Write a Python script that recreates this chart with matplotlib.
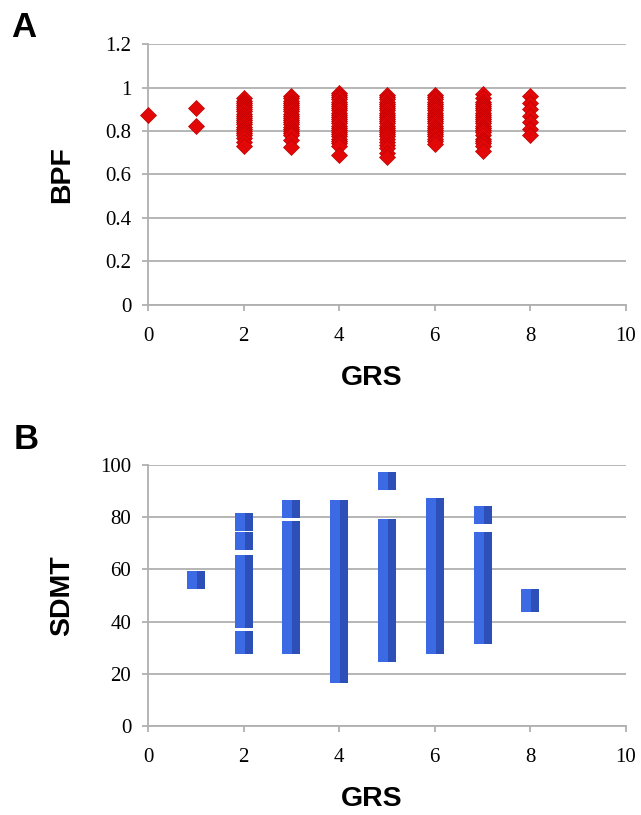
import matplotlib
matplotlib.use('Agg')
import matplotlib.pyplot as plt
from matplotlib.path import Path

# Panel A: BPF values at each GRS score
grs_levels = [0, 1, 2, 3, 4, 5, 6, 7, 8]
bpf_g0 = [0.873]
bpf_g1 = [0.906, 0.823]
bpf_g2 = [0.95, 0.94, 0.93, 0.92, 0.91, 0.90, 0.89, 0.88, 0.87, 0.86, 0.85, 0.84,
          0.83, 0.82, 0.81, 0.80, 0.79, 0.78, 0.77, 0.75, 0.73]
bpf_g3 = [0.96, 0.95, 0.94, 0.93, 0.92, 0.91, 0.90, 0.89, 0.88, 0.87, 0.86, 0.85,
          0.84, 0.83, 0.82, 0.81, 0.80, 0.79, 0.78, 0.76, 0.725]
bpf_g4 = [0.975, 0.965, 0.955, 0.945, 0.935, 0.925, 0.915, 0.905, 0.895, 0.885,
          0.875, 0.865, 0.855, 0.845, 0.835, 0.825, 0.815, 0.805, 0.795, 0.785,
          0.775, 0.765, 0.755, 0.745, 0.73, 0.69]
bpf_g5 = [0.964, 0.955, 0.945, 0.935, 0.925, 0.915, 0.905, 0.895, 0.885, 0.875,
          0.865, 0.855, 0.845, 0.835, 0.825, 0.815, 0.805, 0.795, 0.785, 0.775,
          0.765, 0.75, 0.735, 0.72, 0.70, 0.68]
bpf_g6 = [0.964, 0.955, 0.945, 0.935, 0.925, 0.915, 0.905, 0.895, 0.885, 0.875,
          0.865, 0.855, 0.845, 0.835, 0.825, 0.815, 0.805, 0.795, 0.785, 0.775,
          0.765, 0.755, 0.74]
bpf_g7 = [0.97, 0.95, 0.935, 0.925, 0.915, 0.905, 0.895, 0.885, 0.875, 0.865,
          0.855, 0.845, 0.835, 0.825, 0.815, 0.805, 0.795, 0.78, 0.765, 0.755,
          0.745, 0.73, 0.71]
bpf_g8 = [0.96, 0.93, 0.90, 0.87, 0.84, 0.81, 0.78]
bpf_cols = [bpf_g0, bpf_g1, bpf_g2, bpf_g3, bpf_g4, bpf_g5, bpf_g6, bpf_g7, bpf_g8]

# Panel B: SDMT values at each GRS score (no subject at GRS 0)
sdmt_g1 = [56]
sdmt_g2 = [78, 71, 62, 60, 57, 54, 51, 48, 45, 43, 41, 33, 31]
sdmt_g3 = [83, 75, 72, 69, 66, 63, 60, 57, 54, 51, 48, 45, 42, 39, 36, 33, 31]
sdmt_g4 = [83, 81, 79, 77, 74, 71, 68, 65, 62, 59, 56, 53, 50, 47, 44, 41, 38,
           35, 32, 29, 26, 23, 20]
sdmt_g5 = [94, 76, 74, 70, 67, 64, 61, 58, 55, 52, 49, 46, 43, 40, 37, 34, 31, 28]
sdmt_g6 = [84, 77, 74, 71, 68, 65, 62, 59, 56, 53, 50, 47, 44, 41, 38, 35, 33, 31]
sdmt_g7 = [81, 71, 68, 65, 62, 59, 56, 53, 50, 47, 44, 41, 38, 35]
sdmt_g8 = [49, 47]
sdmt_cols = [[], sdmt_g1, sdmt_g2, sdmt_g3, sdmt_g4, sdmt_g5, sdmt_g6, sdmt_g7, sdmt_g8]

xticks = [0, 2, 4, 6, 8, 10]
bpf_ticks = [0, 0.2, 0.4, 0.6, 0.8, 1, 1.2]
bpf_ticklabels = ['0', '0.2', '0.4', '0.6', '0.8', '1', '1.2']
sdmt_ticks = [0, 20, 40, 60, 80, 100]

bpf_x, bpf_y = [], []
for g, vals in zip(grs_levels, bpf_cols):
	bpf_x += [g] * len(vals)
	bpf_y += vals
sdmt_x, sdmt_y = [], []
for g, vals in zip(grs_levels, sdmt_cols):
	sdmt_x += [g] * len(vals)
	sdmt_y += vals

# darker right side of the square, fakes the excel bevel
right_side = Path([(0.05, 0.5), (0.5, 0.5), (0.5, -0.5), (0.05, -0.5), (0.05, 0.5)])

fig = plt.figure(figsize=(6.41, 8.15), dpi=100)
axA = fig.add_axes([0.2309, 0.6258, 0.7457, 0.3202])
axB = fig.add_axes([0.2309, 0.1092, 0.7457, 0.3202])

tickfont = {'family': 'Liberation Serif', 'size': 15}
labfont = {'family': 'Liberation Sans', 'size': 20.5, 'weight': 'bold'}

def style(ax):
	for s in ['top', 'right']:
		ax.spines[s].set_visible(False)
	for s in ['left', 'bottom']:
		ax.spines[s].set_color('#b0b0b0')
		ax.spines[s].set_linewidth(1.3)
	ax.yaxis.grid(True, color='#b0b0b0', lw=1.3)
	ax.set_axisbelow(True)
	ax.tick_params(axis='both', colors='#b0b0b0', length=4, width=1.3, direction='out')
	ax.set_xlim(0, 10)
	ax.set_xticks(xticks)
	ax.set_xticklabels([str(t) for t in xticks], fontdict=tickfont, color='black')
	ax.tick_params(axis='x', pad=12)
	ax.tick_params(axis='y', pad=8)
	ax.set_xlabel('GRS', fontdict=labfont)
	ax.xaxis.set_label_coords(0.467, -0.23)

style(axA)
axA.plot(bpf_x, bpf_y, linestyle='none', marker='D', ms=7.8,
	mfc='#e30808', mec='#c00000', mew=0.5, clip_on=False, zorder=3)
axA.set_ylim(0, 1.2)
axA.set_yticks(bpf_ticks)
axA.set_yticklabels(bpf_ticklabels, fontdict=tickfont, color='black')
axA.set_ylabel('BPF', fontdict=labfont)
axA.yaxis.set_label_coords(-0.152, 0.5)

style(axB)
axB.plot(sdmt_x, sdmt_y, linestyle='none', marker='s', ms=12.6,
	mfc='#3b6ae4', mew=0, clip_on=False, zorder=3)
axB.plot(sdmt_x, sdmt_y, linestyle='none', marker=right_side, ms=12.6,
	mfc='#2c4fb8', mew=0, clip_on=False, zorder=3)
axB.set_ylim(0, 100)
axB.set_yticks(sdmt_ticks)
axB.set_yticklabels([str(t) for t in sdmt_ticks], fontdict=tickfont, color='black')
axB.set_ylabel('SDMT', fontdict=labfont)
axB.yaxis.set_label_coords(-0.152, 0.5)

fig.text(0.018, 0.955, 'A', fontsize=25, fontweight='bold', family='Liberation Sans')
fig.text(0.022, 0.449, 'B', fontsize=25, fontweight='bold', family='Liberation Sans')

fig.savefig('out.png', dpi=100)
